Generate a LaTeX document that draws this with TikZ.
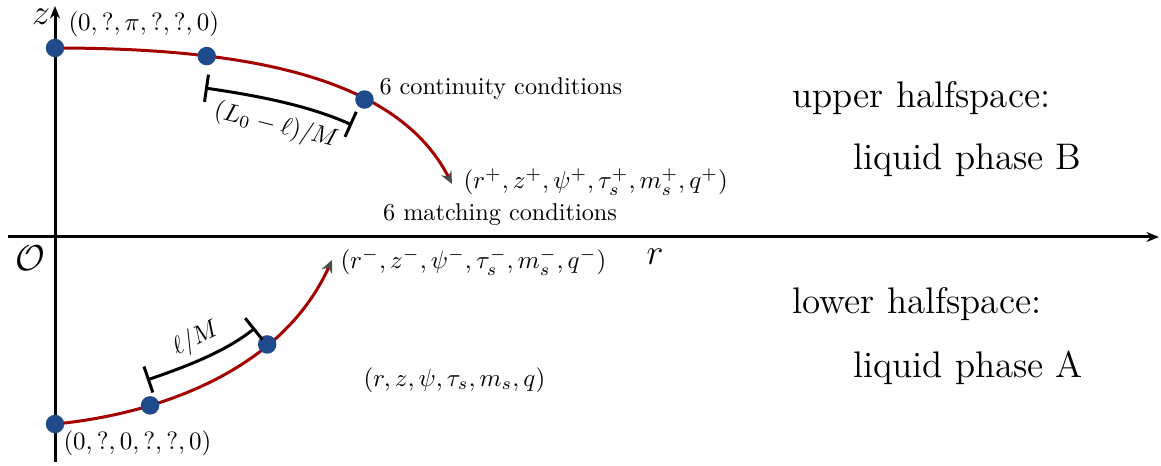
\documentclass[tikz,border=0pt]{standalone}
\usetikzlibrary{arrows.meta}
\definecolor{dotblue}{RGB}{31,75,140}
\definecolor{curvered}{RGB}{165,0,0}
\begin{document}
\begin{tikzpicture}[x=0.4pt,y=-0.4pt,
  font=\fontsize{9.7}{12}\selectfont,
  axis/.style={line width=1.2pt,-{Stealth[length=5pt,width=4pt]}},
  curve/.style={curvered,line width=1.2pt,-{Stealth[length=5pt,width=4.5pt,color=black!70]}},
  pt/.style={circle,fill=dotblue,inner sep=0pt,minimum size=7.4pt},
  brk/.style={line width=1.2pt,{Bar[width=11pt]}-{Bar[width=11pt]}},
  lbl/.style={inner sep=0pt,anchor=west},
  big/.style={inner sep=0pt,anchor=base west,font=\fontsize{14.8}{18}\selectfont}]
\useasboundingbox (0,0) rectangle (1161,466);
% axes
\coordinate (zb) at (55,462);
\coordinate (zt) at (55,6);
\coordinate (rl) at (8,237);
\coordinate (rr) at (1159,237);
\draw[axis] (zb) -- (zt);
\draw[axis] (rl) -- (rr);
\node[inner sep=0pt,font=\Large] (zlab) at (41,17) {$z$};
\node[inner sep=0pt,font=\Large] (olab) at (30,258) {$\mathcal{O}$};
\node[inner sep=0pt,font=\Large] (rlab) at (655,257) {$r$};
% upper curve
\coordinate (u0) at (55,48);
\coordinate (uend) at (452,184);
\draw[curve] (u0) .. controls (250,48) and (398,78) .. (uend)
  node[pt,pos=0] (ua) {}
  node[pt,pos=0.28] (ub) {}
  node[pt,pos=0.655] (uc) {};
% lower curve
\coordinate (l0) at (55,424);
\coordinate (lend) at (332,260);
\draw[curve] (l0) .. controls (150,415) and (280,375) .. (lend)
  node[pt,pos=0] (la) {}
  node[pt,pos=0.31] (lb) {}
  node[pt,pos=0.7] (lc) {};
% brackets
\coordinate (bu1) at (205,88);
\coordinate (bu2) at (352,125);
\draw[brk] (bu1) .. controls (260,96) and (310,106) .. (bu2);
\node[inner sep=0pt,rotate=-14] (ulen) at (276,126) {$(L_0-\ell)/M$};
\coordinate (bl1) at (147,380);
\coordinate (bl2) at (255,328);
\draw[brk] (bl1) .. controls (185,367) and (225,352) .. (bl2);
\node[inner sep=0pt,rotate=26] (llen) at (196,339) {$\ell/M$};
% labels
\node[lbl] (top) at (68,24) {$(0,?,\pi,?,?,0)$};
\node[lbl] (cont) at (379,89) {6 continuity conditions};
\node[lbl] (plus) at (463,182) {$(r^+,z^+,\psi^+,\tau_s^+,m_s^+,q^+)$};
\node[inner sep=0pt] (match) at (500,215) {6 matching conditions};
\node[lbl] (minus) at (340,262) {$(r^-,z^-,\psi^-,\tau_s^-,m_s^-,q^-)$};
\node[lbl] (gen) at (363,380) {$(r,z,\psi,\tau_s,m_s,q)$};
\node[lbl] (bot) at (63,443) {$(0,?,0,?,?,0)$};
\node[big] (uh) at (792,108) {upper halfspace:};
\node[big] (lb) at (853,170) {liquid phase B};
\node[big] (lh) at (792,313) {lower halfspace:};
\node[big] (la) at (853,377) {liquid phase A};
\end{tikzpicture}
\end{document}
